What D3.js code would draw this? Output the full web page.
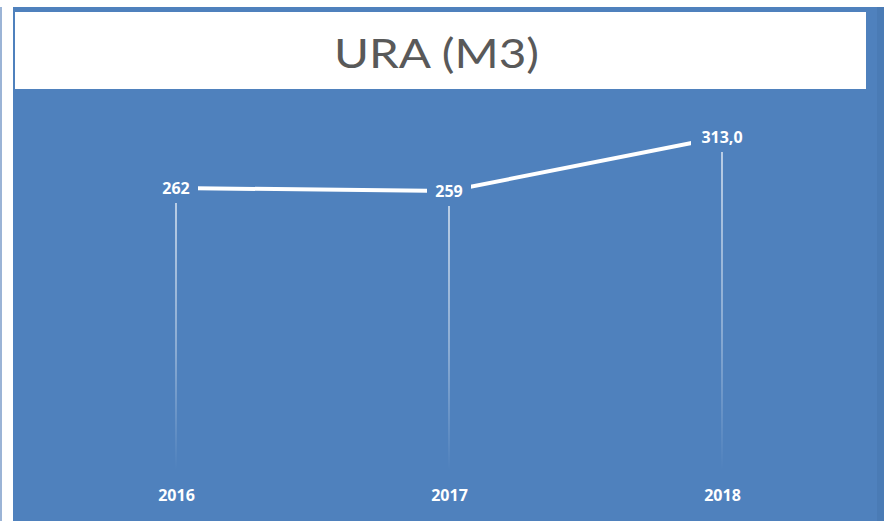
<!DOCTYPE html>
<html>
<head>
<meta charset="utf-8">
<script src="https://cdn.jsdelivr.net/npm/d3@7"></script>
<style>
  body { margin: 0; background: #fff; }
  svg { display: block; }
</style>
</head>
<body>
<div id="chart"></div>
<script>
// chart data
const years = ["2016", "2017", "2018"];
const values = [262, 259, 313];
const valueLabels = ["262", "259", "313,0"];
const chartTitle = "URA (M3)";

const W = 884, H = 521;
const blue = "#4f81bd";

const svg = d3.select("#chart").append("svg")
    .attr("width", W)
    .attr("height", H);

// background panel
svg.append("rect").attr("x", 0).attr("y", 0).attr("width", W).attr("height", H).attr("fill", "#fff");
svg.append("rect").attr("x", 0).attr("y", 7).attr("width", 2).attr("height", H - 7).attr("fill", "#9bb4d6");
svg.append("rect").attr("x", 13).attr("y", 7).attr("width", W - 13).attr("height", H - 7).attr("fill", blue);
svg.append("rect").attr("x", 877).attr("y", 7).attr("width", 7).attr("height", H - 7).attr("fill", "#4a7bb5");

// title box
svg.append("rect").attr("x", 15).attr("y", 12).attr("width", 851).attr("height", 77).attr("fill", "#fff");
svg.append("text")
    .attr("x", 334).attr("y", 68)
    .attr("font-family", "Lato, 'Open Sans', sans-serif")
    .attr("font-size", 41)
    .attr("textLength", 205)
    .attr("lengthAdjust", "spacingAndGlyphs")
    .attr("fill", "#595959")
    .text(chartTitle);

// scales
const x = d3.scalePoint()
    .domain(years)
    .range([176, 722]);

const y = d3.scaleLinear()
    .domain([200, 330])
    .range([250, 120]);

// fading drop lines
const defs = svg.append("defs");
const grad = defs.append("linearGradient")
    .attr("id", "fade")
    .attr("x1", 0).attr("y1", 0).attr("x2", 0).attr("y2", 1);
grad.append("stop").attr("offset", "0%").attr("stop-color", "#fff").attr("stop-opacity", 0.8);
grad.append("stop").attr("offset", "55%").attr("stop-color", "#fff").attr("stop-opacity", 0.45);
grad.append("stop").attr("offset", "100%").attr("stop-color", "#fff").attr("stop-opacity", 0);

const yBottom = 470;
svg.selectAll(".drop")
    .data(years)
    .enter().append("rect")
    .attr("class", "drop")
    .attr("x", d => x(d) - 0.75)
    .attr("y", (d, i) => y(values[i]) + 15)
    .attr("width", 1.5)
    .attr("height", (d, i) => yBottom - y(values[i]) - 15)
    .attr("fill", "url(#fade)");

// line
const line = d3.line()
    .x((d, i) => x(years[i]))
    .y(d => y(d));

svg.append("path")
    .datum(values)
    .attr("d", line)
    .attr("fill", "none")
    .attr("stroke", "#fff")
    .attr("stroke-width", 4);

// data labels with background to break the line
const lbl = svg.selectAll(".lbl")
    .data(values)
    .enter().append("g")
    .attr("class", "lbl")
    .attr("transform", (d, i) => "translate(" + x(years[i]) + "," + y(d) + ")");

lbl.append("rect")
    .attr("x", (d, i) => i === 2 ? -31 : -22)
    .attr("y", -11)
    .attr("width", (d, i) => i === 2 ? 62 : 44)
    .attr("height", 22)
    .attr("fill", blue);

lbl.append("text")
    .attr("text-anchor", "middle")
    .attr("dy", "0.35em")
    .attr("font-family", "'Open Sans', sans-serif")
    .attr("font-weight", "bold")
    .attr("font-size", 16)
    .attr("fill", "#fff")
    .text((d, i) => valueLabels[i]);

// category axis labels
const xAxis = d3.axisBottom(x).tickSize(0).tickPadding(0);
const gx = svg.append("g")
    .attr("transform", "translate(0,490)")
    .call(xAxis);
gx.select(".domain").remove();
gx.selectAll("text")
    .attr("font-family", "'Open Sans', sans-serif")
    .attr("font-weight", "bold")
    .attr("font-size", 16)
    .attr("fill", "#fff");
</script>
</body>
</html>
